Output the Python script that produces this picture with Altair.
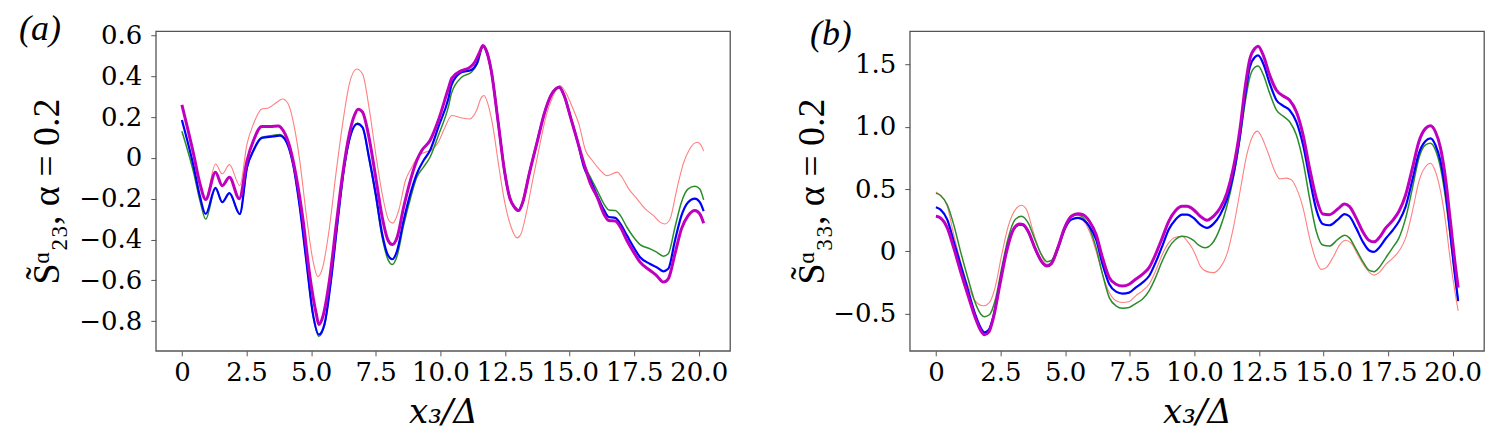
import altair as alt
import pandas as pd

# ---- panel (a): S23 ----
a_salmon_x = [0, 0.45, 0.7, 0.92, 1.30, 1.56, 1.84, 2.24, 2.52, 2.77, 3.09, 3.35, 3.67, 3.90, 4.11, 4.30, 4.56, 4.81, 5.07, 5.26, 5.45, 5.71, 5.96, 6.22, 6.48, 6.76, 6.99, 7.24, 7.50, 7.75, 8.01, 8.16, 8.39, 8.65, 8.90, 9.16, 9.41, 9.67, 9.92, 10.18, 10.44, 10.82, 11.14, 11.40, 11.59, 11.69, 11.84, 12.04, 12.23, 12.48, 12.74, 12.97, 13.12, 13.32, 13.57, 13.83, 14.08, 14.34, 14.63, 14.85, 15.11, 15.36, 15.62, 15.88, 16.20, 16.45, 16.84, 17.03, 17.29, 17.61, 17.93, 18.25, 18.50, 18.69, 18.89, 19.14, 19.40, 19.65, 19.94, 20.10, 20.19]
a_salmon_y = [0.26, 0.02, -0.127, -0.20, -0.03, -0.078, -0.033, -0.136, 0.069, 0.167, 0.24, 0.245, 0.273, 0.289, 0.265, 0.183, -0.013, -0.275, -0.503, -0.582, -0.536, -0.34, -0.078, 0.167, 0.363, 0.436, 0.412, 0.248, 0.02, -0.176, -0.307, -0.32, -0.258, -0.111, -0.046, 0.011, 0.028, 0.04, 0.077, 0.15, 0.208, 0.196, 0.191, 0.232, 0.297, 0.306, 0.265, 0.15, -0.013, -0.209, -0.34, -0.392, -0.373, -0.275, -0.111, 0.052, 0.199, 0.297, 0.355, 0.322, 0.248, 0.167, 0.036, -0.013, -0.062, -0.087, -0.07, -0.095, -0.152, -0.201, -0.25, -0.283, -0.315, -0.324, -0.299, -0.16, -0.029, 0.044, 0.077, 0.06, 0.033]

a_green_x = [0, 0.45, 0.7, 0.92, 1.30, 1.56, 1.84, 2.24, 2.52, 2.77, 3.09, 3.54, 3.79, 4.05, 4.30, 4.56, 4.81, 5.07, 5.30, 5.52, 5.77, 6.03, 6.28, 6.54, 6.79, 6.99, 7.24, 7.50, 7.75, 7.98, 8.14, 8.33, 8.58, 8.84, 9.09, 9.35, 9.60, 9.92, 10.31, 10.44, 10.82, 11.20, 11.46, 11.65, 11.78, 11.97, 12.23, 12.48, 12.68, 12.87, 13.03, 13.19, 13.44, 13.76, 14.02, 14.28, 14.47, 14.60, 14.79, 15.04, 15.30, 15.56, 15.81, 16.07, 16.33, 16.52, 16.77, 16.97, 17.22, 17.48, 17.73, 18.12, 18.37, 18.63, 18.82, 19.08, 19.33, 19.59, 19.85, 20.04, 20.19]
a_green_y = [0.131, -0.07, -0.21, -0.30, -0.15, -0.217, -0.173, -0.278, -0.05, 0.04, 0.10, 0.111, 0.115, 0.08, -0.03, -0.24, -0.50, -0.77, -0.875, -0.82, -0.60, -0.31, -0.05, 0.115, 0.17, 0.15, -0.005, -0.19, -0.39, -0.50, -0.523, -0.48, -0.33, -0.20, -0.095, -0.045, 0.003, 0.109, 0.25, 0.32, 0.395, 0.42, 0.469, 0.545, 0.52, 0.425, 0.183, -0.062, -0.193, -0.242, -0.258, -0.217, -0.078, 0.085, 0.216, 0.31, 0.342, 0.35, 0.31, 0.20, 0.085, -0.029, -0.095, -0.16, -0.225, -0.255, -0.258, -0.283, -0.34, -0.389, -0.425, -0.446, -0.462, -0.482, -0.47, -0.34, -0.217, -0.152, -0.139, -0.152, -0.206]

a_blue_x = [0, 0.45, 0.7, 0.92, 1.30, 1.56, 1.84, 2.24, 2.52, 2.77, 3.09, 3.54, 3.79, 4.05, 4.30, 4.56, 4.81, 5.07, 5.30, 5.52, 5.77, 6.03, 6.28, 6.54, 6.79, 6.99, 7.24, 7.50, 7.75, 7.98, 8.14, 8.33, 8.58, 8.84, 9.09, 9.35, 9.60, 9.92, 10.31, 10.44, 10.82, 11.20, 11.40, 11.65, 11.78, 11.97, 12.23, 12.48, 12.68, 12.87, 13.03, 13.19, 13.44, 13.76, 14.02, 14.28, 14.47, 14.60, 14.79, 15.04, 15.30, 15.56, 15.81, 16.07, 16.33, 16.52, 16.77, 16.97, 17.22, 17.48, 17.73, 18.12, 18.37, 18.63, 18.82, 19.08, 19.33, 19.59, 19.85, 20.04, 20.19]
a_blue_y = [0.186, -0.04, -0.19, -0.275, -0.147, -0.217, -0.173, -0.275, -0.046, 0.036, 0.098, 0.105, 0.109, 0.077, -0.03, -0.24, -0.50, -0.765, -0.866, -0.814, -0.60, -0.307, -0.046, 0.118, 0.167, 0.15, 0.003, -0.176, -0.373, -0.479, -0.497, -0.454, -0.307, -0.176, -0.078, -0.013, 0.036, 0.15, 0.29, 0.36, 0.42, 0.431, 0.46, 0.55, 0.526, 0.428, 0.183, -0.062, -0.193, -0.242, -0.258, -0.217, -0.078, 0.085, 0.216, 0.306, 0.338, 0.346, 0.306, 0.199, 0.085, -0.046, -0.111, -0.185, -0.255, -0.29, -0.294, -0.324, -0.38, -0.438, -0.487, -0.52, -0.536, -0.556, -0.544, -0.405, -0.283, -0.217, -0.20, -0.217, -0.261]

a_magenta_x = [0, 0.45, 0.7, 0.92, 1.30, 1.56, 1.84, 2.22, 2.52, 2.77, 3.09, 3.41, 3.73, 3.92, 4.18, 4.43, 4.69, 4.94, 5.20, 5.30, 5.45, 5.71, 5.96, 6.22, 6.48, 6.67, 6.82, 6.99, 7.24, 7.50, 7.75, 7.98, 8.14, 8.33, 8.58, 8.84, 9.09, 9.28, 9.60, 9.92, 10.31, 10.44, 10.82, 11.14, 11.33, 11.52, 11.65, 11.78, 11.97, 12.23, 12.48, 12.68, 12.87, 13.03, 13.19, 13.44, 13.76, 14.02, 14.28, 14.47, 14.60, 14.79, 15.04, 15.30, 15.56, 15.81, 16.07, 16.33, 16.52, 16.77, 16.97, 17.22, 17.48, 17.73, 18.12, 18.37, 18.63, 18.82, 19.08, 19.33, 19.59, 19.85, 20.04, 20.19]
a_magenta_y = [0.26, 0.02, -0.127, -0.204, -0.07, -0.136, -0.095, -0.20, -0.013, 0.085, 0.154, 0.154, 0.157, 0.134, 0.052, -0.095, -0.307, -0.569, -0.765, -0.817, -0.78, -0.60, -0.34, -0.08, 0.118, 0.207, 0.239, 0.224, 0.10, -0.095, -0.29, -0.405, -0.425, -0.389, -0.242, -0.111, -0.013, 0.036, 0.085, 0.183, 0.34, 0.39, 0.428, 0.444, 0.469, 0.518, 0.551, 0.526, 0.428, 0.183, -0.062, -0.193, -0.242, -0.258, -0.217, -0.078, 0.085, 0.216, 0.306, 0.338, 0.346, 0.306, 0.199, 0.085, -0.029, -0.127, -0.193, -0.275, -0.307, -0.31, -0.34, -0.405, -0.462, -0.511, -0.552, -0.577, -0.609, -0.593, -0.47, -0.348, -0.283, -0.258, -0.275, -0.32]

# ---- panel (b): S33 ----
b_salmon_x = [0, 0.18, 0.44, 0.69, 0.95, 1.27, 1.52, 1.84, 2.07, 2.29, 2.55, 2.80, 3.12, 3.31, 3.51, 3.76, 4.02, 4.30, 4.47, 4.72, 4.98, 5.24, 5.49, 5.69, 5.94, 6.20, 6.45, 6.71, 6.97, 7.22, 7.48, 7.73, 7.99, 8.25, 8.50, 8.76, 9.01, 9.27, 9.53, 9.72, 9.91, 10.05, 10.23, 10.49, 10.74, 11.00, 11.26, 11.51, 11.77, 12.03, 12.28, 12.44, 12.60, 12.86, 13.12, 13.31, 13.56, 13.76, 13.95, 14.21, 14.46, 14.72, 14.91, 15.10, 15.36, 15.62, 15.85, 16.06, 16.32, 16.58, 16.83, 16.96, 17.15, 17.41, 17.67, 17.92, 18.18, 18.44, 18.69, 18.95, 19.14, 19.33, 19.53, 19.72, 19.91, 20.08, 20.21]
b_salmon_y = [0.476, 0.45, 0.362, 0.136, -0.077, -0.29, -0.396, -0.436, -0.41, -0.29, -0.024, 0.202, 0.348, 0.37, 0.335, 0.162, 0.003, -0.104, -0.082, 0.043, 0.202, 0.282, 0.29, 0.255, 0.162, 0.003, -0.184, -0.33, -0.396, -0.41, -0.402, -0.356, -0.316, -0.263, -0.157, -0.024, 0.069, 0.114, 0.122, 0.085, 0.03, -0.03, -0.117, -0.162, -0.17, -0.13, -0.024, 0.189, 0.481, 0.774, 0.934, 0.965, 0.92, 0.787, 0.641, 0.582, 0.588, 0.574, 0.508, 0.348, 0.109, -0.077, -0.144, -0.13, -0.051, 0.051, 0.09, 0.069, -0.024, -0.117, -0.178, -0.19, -0.17, -0.104, -0.056, 0.003, 0.109, 0.322, 0.561, 0.681, 0.707, 0.641, 0.481, 0.242, -0.077, -0.316, -0.476]

b_green_x = [0, 0.18, 0.44, 0.69, 0.95, 1.27, 1.52, 1.74, 1.88, 2.07, 2.29, 2.55, 2.80, 3.06, 3.31, 3.57, 3.83, 4.08, 4.30, 4.47, 4.72, 4.98, 5.24, 5.49, 5.69, 5.94, 6.20, 6.45, 6.71, 6.97, 7.22, 7.48, 7.73, 7.99, 8.25, 8.50, 8.76, 9.01, 9.27, 9.53, 9.72, 9.97, 10.17, 10.42, 10.68, 11.00, 11.26, 11.51, 11.77, 11.96, 12.15, 12.35, 12.47, 12.67, 12.92, 13.18, 13.44, 13.69, 13.95, 14.21, 14.46, 14.72, 14.97, 15.23, 15.55, 15.81, 16.00, 16.26, 16.51, 16.77, 16.96, 17.15, 17.41, 17.67, 17.92, 18.18, 18.44, 18.69, 18.95, 19.14, 19.33, 19.53, 19.72, 19.91, 20.08, 20.21]
b_green_y = [0.468, 0.449, 0.375, 0.215, 0.003, -0.237, -0.41, -0.503, -0.524, -0.508, -0.396, -0.13, 0.109, 0.255, 0.282, 0.229, 0.096, -0.024, -0.082, -0.072, 0.043, 0.189, 0.274, 0.295, 0.274, 0.189, 0.029, -0.184, -0.37, -0.436, -0.455, -0.449, -0.418, -0.383, -0.316, -0.21, -0.077, 0.029, 0.096, 0.122, 0.117, 0.088, 0.051, 0.029, 0.061, 0.189, 0.362, 0.588, 0.907, 1.186, 1.399, 1.479, 1.487, 1.418, 1.266, 1.133, 1.085, 1.04, 0.934, 0.721, 0.428, 0.162, 0.051, 0.043, 0.096, 0.13, 0.109, 0.016, -0.077, -0.152, -0.162, -0.13, -0.051, 0.029, 0.109, 0.269, 0.508, 0.747, 0.854, 0.867, 0.814, 0.668, 0.428, 0.109, -0.184, -0.40]

b_blue_x = [0, 0.18, 0.44, 0.69, 0.95, 1.27, 1.52, 1.74, 1.88, 2.04, 2.23, 2.48, 2.74, 3.00, 3.25, 3.38, 3.57, 3.83, 4.08, 4.30, 4.47, 4.72, 4.98, 5.24, 5.49, 5.69, 5.94, 6.20, 6.45, 6.71, 6.97, 7.22, 7.48, 7.73, 7.99, 8.25, 8.50, 8.76, 9.01, 9.27, 9.53, 9.72, 9.97, 10.23, 10.49, 10.74, 11.00, 11.26, 11.51, 11.77, 11.96, 12.15, 12.35, 12.47, 12.67, 12.92, 13.18, 13.44, 13.69, 13.95, 14.21, 14.46, 14.72, 14.97, 15.23, 15.55, 15.81, 16.00, 16.26, 16.51, 16.77, 16.96, 17.15, 17.41, 17.67, 17.92, 18.18, 18.44, 18.69, 18.95, 19.14, 19.33, 19.53, 19.72, 19.91, 20.08, 20.21]
b_blue_y = [0.354, 0.335, 0.255, 0.082, -0.104, -0.33, -0.503, -0.614, -0.649, -0.63, -0.516, -0.25, 0.016, 0.176, 0.215, 0.21, 0.16, 0.029, -0.077, -0.115, -0.096, 0.021, 0.176, 0.255, 0.269, 0.255, 0.202, 0.096, -0.104, -0.263, -0.322, -0.338, -0.33, -0.29, -0.25, -0.197, -0.09, 0.043, 0.176, 0.255, 0.295, 0.295, 0.269, 0.215, 0.189, 0.221, 0.295, 0.415, 0.614, 0.934, 1.239, 1.479, 1.559, 1.572, 1.505, 1.346, 1.213, 1.168, 1.133, 1.04, 0.854, 0.588, 0.335, 0.221, 0.21, 0.255, 0.30, 0.282, 0.189, 0.082, 0.008, -0.003, 0.029, 0.104, 0.168, 0.242, 0.362, 0.574, 0.787, 0.886, 0.907, 0.854, 0.721, 0.481, 0.136, -0.184, -0.396]

b_magenta_x = [0, 0.18, 0.44, 0.69, 0.95, 1.27, 1.52, 1.74, 1.88, 2.04, 2.23, 2.48, 2.74, 3.00, 3.25, 3.38, 3.57, 3.83, 4.08, 4.30, 4.47, 4.72, 4.98, 5.24, 5.49, 5.69, 5.94, 6.20, 6.45, 6.71, 6.97, 7.22, 7.48, 7.73, 7.99, 8.25, 8.50, 8.76, 9.01, 9.27, 9.53, 9.72, 9.97, 10.23, 10.49, 10.74, 11.00, 11.26, 11.51, 11.77, 11.96, 12.15, 12.35, 12.47, 12.67, 12.92, 13.18, 13.44, 13.69, 13.95, 14.21, 14.46, 14.72, 14.97, 15.23, 15.55, 15.81, 16.00, 16.26, 16.51, 16.77, 16.96, 17.15, 17.41, 17.67, 17.92, 18.18, 18.44, 18.69, 18.95, 19.14, 19.33, 19.53, 19.72, 19.91, 20.08, 20.21]
b_magenta_y = [0.282, 0.269, 0.189, 0.029, -0.157, -0.37, -0.529, -0.636, -0.668, -0.649, -0.529, -0.263, 0.003, 0.176, 0.221, 0.215, 0.162, 0.029, -0.077, -0.117, -0.098, 0.029, 0.189, 0.282, 0.303, 0.295, 0.242, 0.136, -0.051, -0.21, -0.263, -0.277, -0.263, -0.223, -0.184, -0.13, -0.024, 0.109, 0.242, 0.327, 0.362, 0.362, 0.335, 0.282, 0.25, 0.282, 0.348, 0.468, 0.668, 0.987, 1.306, 1.545, 1.63, 1.646, 1.572, 1.412, 1.293, 1.247, 1.213, 1.12, 0.934, 0.668, 0.428, 0.301, 0.295, 0.34, 0.38, 0.362, 0.269, 0.162, 0.088, 0.077, 0.109, 0.189, 0.247, 0.322, 0.455, 0.668, 0.88, 0.987, 1.008, 0.96, 0.827, 0.588, 0.242, -0.077, -0.29]

x_ticks = [0, 2.5, 5, 7.5, 10, 12.5, 15, 17.5, 20]
a_y_ticks = [-0.8, -0.6, -0.4, -0.2, 0, 0.2, 0.4, 0.6]
b_y_ticks = [-0.5, 0, 0.5, 1.0, 1.5]

# drawing order bottom -> top: (name, colour, line width)
styles = [
    ("salmon", "#ff8080", 1.1),
    ("green", "#2a8c2a", 1.5),
    ("blue", "#0000ff", 2.2),
    ("magenta", "#bf00bf", 3.0),
]

FONT = "Liberation Serif"
WIDE = "DejaVu Serif"  # the source figure is stretched sideways, so its digits look wide
LABEL_EXPR = "datum.value == 0 ? '0' : replace(format(datum.value, '.1f'), '-', '\u2212')"


def make_df(series):
    parts = [pd.DataFrame({"x": xs, "y": ys, "series": name}) for name, xs, ys in series]
    return pd.concat(parts, ignore_index=True)


def axis_style(**kw):
    return alt.Axis(labelFont=WIDE, labelFontSize=26, labelColor="black",
                    titleColor="black", titleFontWeight="normal",
                    domain=False, grid=False, tickColor="#555555", tickSize=5, tickWidth=1,
                    labelOverlap=False, labelFlush=False, labelExpr=LABEL_EXPR, **kw)


def panel(df, y_domain, y_ticks, y_title, y_pad, tag, tag_dx, tag_y):
    base = alt.Chart(df).encode(
        x=alt.X("x:Q",
                scale=alt.Scale(domain=[-1.01, 21.21], nice=False, zero=False),
                axis=axis_style(values=x_ticks, title="x\u2083/\u0394", titleFont=WIDE,
                                titleFontStyle="italic", titleFontSize=34, titlePadding=10,
                                labelPadding=4)),
        y=alt.Y("y:Q",
                scale=alt.Scale(domain=y_domain, nice=False, zero=False),
                axis=axis_style(values=y_ticks, title=y_title, titleFont=FONT, titleFontSize=38,
                                titlePadding=y_pad, labelPadding=9)),
    )
    layers = [
        base.transform_filter(alt.datum.series == name).mark_line(
            color=color, strokeWidth=width, interpolate="monotone")
        for name, color, width in styles
    ]
    label = alt.Chart(pd.DataFrame({"tag": [tag]})).mark_text(
        font=FONT, fontSize=36, fontStyle="italic", align="left", baseline="alphabetic",
        color="black",
    ).encode(text="tag:N", x=alt.value(tag_dx), y=alt.value(tag_y))
    return alt.layer(*layers, label).properties(width=575, height=320)


df_a = make_df([("salmon", a_salmon_x, a_salmon_y), ("green", a_green_x, a_green_y),
                ("blue", a_blue_x, a_blue_y), ("magenta", a_magenta_x, a_magenta_y)])
df_b = make_df([("salmon", b_salmon_x, b_salmon_y), ("green", b_green_x, b_green_y),
                ("blue", b_blue_x, b_blue_y), ("magenta", b_magenta_x, b_magenta_y)])

left = panel(df_a, [-0.946, 0.621], a_y_ticks, "S\u0303\u1d45\u2082\u2083, \u03b1 = 0.2", 12,
             "(a)", -137, 9)
right = panel(df_b, [-0.797, 1.766], b_y_ticks, "S\u0303\u1d45\u2083\u2083, \u03b1 = 0.2", 1,
              "(b)", -100, 14)

chart = alt.hconcat(left, right, spacing=180, bounds="flush").configure(
    font=FONT,
    padding={"left": 10, "top": 2, "right": 0, "bottom": 0},
).configure_view(
    stroke="#555555", strokeWidth=1.3,
)

chart.save("out.html", embed_options={"renderer": "svg", "actions": False})
